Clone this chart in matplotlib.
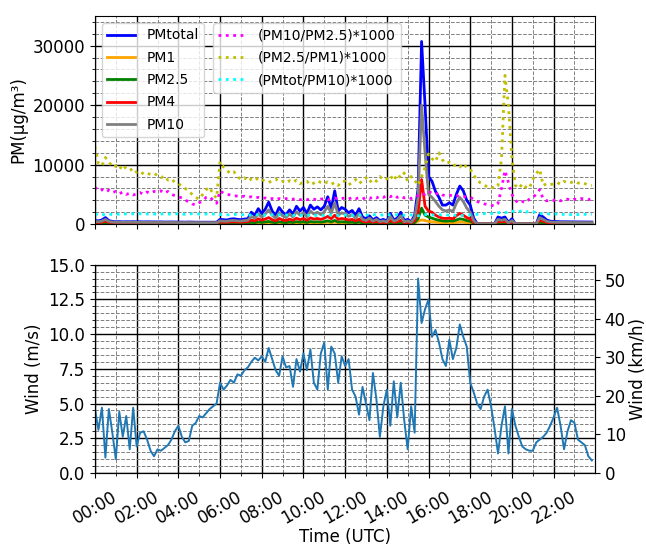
import numpy as np
import pandas as pd
import matplotlib
matplotlib.use('Agg')
from matplotlib import pyplot as plt
import matplotlib.dates as mdates
from matplotlib.ticker import MultipleLocator

# 10-min Werte, 00:00 bis 23:50 (je Zeile eine Stunde)
pm_total = [
    600, 550, 700, 1100, 600, 450,
    400, 420, 380, 400, 390, 410,
    380, 400, 370, 390, 380, 360,
    370, 380, 350, 360, 370, 350,
    340, 350, 330, 360, 340, 330,
    330, 340, 320, 330, 340, 320,
    800, 750, 700, 850, 900, 800,
    750, 850, 900, 2000, 1500, 2600,
    1800, 2500, 3700, 2200, 1500, 2800,
    2000, 1600, 2400, 1700, 3000, 2200,
    2800, 1800, 3200, 2500, 2900, 2400,
    3000, 4600, 2600, 5600, 2200, 2800,
    2500, 1900, 2300, 1500, 2600, 1200,
    900, 1400, 700, 1100, 600, 800,
    500, 1800, 700, 1000, 2000, 600,
    800, 400, 1500, 6000, 30700, 20000,
    8000, 7200, 5500, 4500, 3200, 3200,
    3600, 3200, 5000, 6400, 5600, 4000,
    3200, 1000, 80, 60, 50, 60,
    50, 60, 1200, 1000, 1200, 300,
    900, 60, 50, 50, 50, 60,
    60, 50, 1600, 1200, 700, 500,
    450, 420, 400, 400, 390, 380,
    380, 370, 370, 360, 350, 350,
]
pm10 = [
    450, 400, 500, 800, 450, 350,
    300, 320, 290, 300, 300, 310,
    290, 300, 280, 290, 290, 270,
    280, 290, 260, 270, 280, 260,
    250, 260, 250, 270, 250, 250,
    250, 260, 240, 250, 260, 240,
    550, 500, 480, 600, 620, 550,
    520, 600, 650, 1300, 1000, 1700,
    1200, 1700, 2400, 1500, 1000, 1900,
    1400, 1100, 1700, 1200, 2100, 1500,
    1900, 1200, 2200, 1700, 2000, 1600,
    2100, 3000, 1800, 3600, 1500, 1900,
    1700, 1300, 1600, 1000, 1800, 800,
    600, 1000, 500, 800, 400, 550,
    350, 1300, 500, 700, 1400, 400,
    550, 300, 1100, 4500, 20000, 12000,
    5000, 4500, 3800, 3000, 2400, 2200,
    2400, 2100, 3500, 4500, 3800, 2700,
    2000, 600, 50, 40, 35, 40,
    35, 40, 800, 650, 800, 200,
    600, 40, 35, 35, 35, 40,
    40, 35, 1100, 800, 480, 350,
    320, 300, 280, 280, 270, 260,
    260, 260, 250, 250, 240, 240,
]
pm4 = [
    300, 280, 330, 500, 300, 250,
    200, 210, 190, 200, 200, 205,
    190, 200, 185, 190, 190, 180,
    185, 190, 175, 180, 185, 175,
    170, 175, 165, 180, 170, 165,
    165, 170, 160, 165, 170, 160,
    350, 320, 300, 380, 400, 350,
    330, 380, 420, 700, 550, 900,
    650, 850, 1100, 750, 550, 950,
    700, 600, 850, 650, 1000, 750,
    950, 650, 1050, 850, 950, 800,
    1000, 1300, 900, 1500, 800, 950,
    850, 700, 800, 550, 850, 450,
    350, 500, 300, 450, 250, 320,
    220, 600, 300, 400, 650, 250,
    320, 200, 600, 2000, 7500, 3000,
    2200, 2000, 1500, 1200, 1000, 950,
    1000, 900, 1400, 1800, 1500, 1100,
    900, 300, 30, 25, 20, 25,
    20, 25, 450, 380, 450, 120,
    350, 25, 20, 20, 20, 25,
    25, 20, 650, 480, 300, 220,
    200, 190, 180, 180, 175, 170,
    170, 165, 165, 160, 160, 155,
]
pm25 = [
    130, 120, 140, 200, 130, 110,
    95, 100, 90, 95, 95, 98,
    90, 95, 88, 90, 90, 85,
    88, 90, 82, 85, 88, 82,
    80, 82, 78, 85, 80, 78,
    78, 80, 75, 78, 80, 75,
    160, 150, 140, 175, 180, 160,
    150, 170, 190, 300, 240, 380,
    280, 360, 450, 320, 240, 400,
    300, 260, 360, 280, 420, 320,
    400, 280, 440, 360, 400, 340,
    420, 550, 380, 620, 340, 400,
    360, 300, 340, 240, 360, 200,
    160, 220, 140, 200, 120, 150,
    100, 260, 140, 180, 280, 120,
    150, 95, 260, 900, 2700, 1500,
    1200, 1000, 800, 650, 550, 500,
    550, 500, 700, 900, 800, 600,
    480, 150, 15, 12, 10, 12,
    10, 12, 200, 170, 200, 60,
    160, 12, 10, 10, 10, 12,
    12, 10, 300, 220, 140, 100,
    90, 85, 82, 80, 78, 76,
    76, 75, 74, 72, 72, 70,
]
pm1 = [
    80, 75, 85, 120, 80, 70,
    60, 62, 58, 60, 60, 61,
    58, 60, 56, 58, 58, 55,
    56, 58, 52, 54, 56, 52,
    50, 52, 50, 54, 50, 50,
    50, 52, 48, 50, 52, 48,
    100, 95, 90, 110, 115, 100,
    95, 110, 120, 190, 150, 240,
    180, 230, 280, 200, 150, 250,
    190, 165, 230, 180, 260, 200,
    250, 180, 280, 230, 250, 215,
    260, 340, 240, 380, 215, 250,
    230, 190, 215, 150, 230, 130,
    100, 140, 90, 130, 75, 95,
    65, 165, 90, 115, 175, 75,
    95, 60, 165, 500, 700, 600,
    450, 400, 330, 280, 240, 220,
    240, 220, 300, 380, 340, 260,
    210, 70, 8, 6, 5, 6,
    5, 6, 100, 85, 100, 30,
    80, 6, 5, 5, 5, 6,
    6, 5, 150, 110, 70, 50,
    45, 42, 41, 40, 39, 38,
    38, 37, 37, 36, 36, 35,
]
ratio_10_25 = [
    6200, 5600, 5800, 5400, 5700, 5300,
    5500, 5100, 5400, 5000, 5200, 4900,
    5100, 5300, 5000, 5400, 5200, 5500,
    5400, 5600, 5200, 5500, 5000, 4800,
    4600, 4400, 4000, 3800, 3400, 3200,
    3600, 3900, 4500, 4600, 4000, 3500,
    5600, 5200, 5000, 4900, 4800, 4700,
    4600, 4700, 4500, 4600, 4400, 4500,
    4300, 4400, 4200, 4300, 4100, 4300,
    4200, 4300, 4100, 4200, 4300, 4100,
    4200, 4100, 4300, 4200, 4000, 4200,
    4300, 4100, 4200, 4400, 4200, 4300,
    4400, 4200, 4500, 4300, 4400, 4200,
    4500, 4300, 4600, 4400, 4700, 4500,
    4800, 4600, 4900, 4500, 4700, 4400,
    4500, 4300, 4600, 4800, 5200, 5000,
    5500, 5200, 5000, 5300, 4900, 4800,
    4900, 4700, 4800, 4600, 4700, 4500,
    4500, 4200, 3800, 3600, 3400, 3300,
    3200, 3000, 3500, 6000, 9000, 7000,
    5000, 4000, 3500, 3800, 3600, 4200,
    4500, 5000, 5800, 4200, 3900, 4100,
    4000, 4200, 3900, 4100, 4200, 4000,
    4200, 4100, 4300, 4200, 4100, 4300,
]
ratio_25_1 = [
    13000, 10200, 9800, 11200, 10500, 9600,
    9800, 9200, 10000, 9300, 9000, 9400,
    8700, 8900, 8400, 8600, 8300, 8500,
    8200, 7800, 8100, 7400, 7600, 7000,
    6800, 6400, 6000, 5500, 5000, 4500,
    4200, 5000, 5800, 6200, 5000, 4400,
    10500, 9600, 9000, 8500, 8800, 8000,
    7500, 7800, 7200, 7600, 7300, 7800,
    7500, 7200, 7000, 7300, 7600, 7100,
    7200, 6900, 7300, 7000, 7400, 6800,
    7000, 7200, 6600, 6900, 7300, 7000,
    6800, 7100, 6700, 7000, 6500, 7200,
    7200, 6600, 7000, 7500, 6800, 7300,
    7800, 7000, 7600, 7200, 8000, 7400,
    7600, 8200, 7300, 8400, 7800, 8600,
    7200, 8000, 7400, 6500, 8000, 9500,
    11800, 11000, 10500, 12000, 10800, 10200,
    10400, 9800, 10000, 9600, 10200, 9500,
    9300, 8200, 7400, 6900, 6600, 6200,
    6300, 6000, 6500, 11000, 25000, 20000,
    11000, 6500, 6000, 6800, 6200, 6000,
    7500, 8500, 9200, 6500, 6800, 6600,
    6800, 7000, 6700, 7200, 6900, 7000,
    7200, 6900, 7000, 6800, 6600, 6500,
]
ratio_tot_10 = [
    1600, 1700, 1550, 1650, 1700, 1600,
    1700, 1650, 1750, 1700, 1650, 1750,
    1700, 1750, 1650, 1700, 1750, 1700,
    1650, 1700, 1750, 1700, 1650, 1700,
    1750, 1700, 1650, 1700, 1750, 1700,
    1700, 1650, 1700, 1750, 1700, 1650,
    1600, 1650, 1550, 1600, 1650, 1600,
    1550, 1600, 1500, 1550, 1600, 1550,
    1550, 1500, 1600, 1550, 1500, 1550,
    1500, 1550, 1500, 1450, 1550, 1500,
    1500, 1450, 1550, 1500, 1450, 1500,
    1450, 1500, 1550, 1500, 1450, 1500,
    1500, 1550, 1450, 1500, 1550, 1500,
    1550, 1500, 1600, 1550, 1500, 1550,
    1600, 1550, 1500, 1600, 1550, 1500,
    1500, 1550, 1450, 1400, 1500, 1600,
    1600, 1550, 1500, 1550, 1600, 1550,
    1500, 1550, 1450, 1500, 1450, 1500,
    1550, 1600, 1650, 1700, 1750, 1700,
    1800, 1750, 1900, 2000, 1900, 2100,
    2200, 2000, 2100, 2300, 2000, 2200,
    2100, 1900, 1800, 1700, 1750, 1700,
    1650, 1700, 1600, 1650, 1700, 1600,
    1650, 1600, 1700, 1650, 1600, 1650,
]
wind_ms = [
    4.6, 3.1, 4.7, 1.1, 4.6, 2.9,
    1.0, 4.4, 2.6, 4.1, 1.7, 4.7,
    1.9, 2.9, 3.0, 2.4, 1.6, 1.2,
    1.7, 1.6, 1.8, 2.0, 2.4, 3.0,
    3.4, 2.6, 2.2, 2.3, 3.4, 3.6,
    4.1, 4.0, 4.3, 4.6, 4.8, 5.0,
    6.5, 6.0, 6.3, 6.7, 6.5, 7.1,
    7.0, 7.4, 7.6, 8.0, 8.3, 8.1,
    8.4, 8.0, 9.0, 8.2, 7.4, 7.0,
    8.4, 7.6, 7.7, 6.2, 8.2, 7.3,
    8.6, 7.4, 8.9, 6.5, 6.0, 8.6,
    9.4, 6.0, 9.1, 8.6, 6.5, 8.4,
    7.7, 8.2, 6.0, 5.5, 4.2, 6.2,
    5.0, 3.8, 7.2, 5.3, 2.6, 4.8,
    6.0, 3.4, 6.6, 4.0, 6.5, 3.8,
    1.7, 4.8, 2.9, 14.0, 10.8, 11.8,
    12.5, 9.8, 10.3, 9.4, 8.2, 7.7,
    9.6, 8.2, 9.0, 10.7, 9.8, 9.1,
    6.5, 5.8, 5.0, 4.6, 5.5, 6.0,
    4.8, 3.2, 1.4, 3.4, 4.8, 1.4,
    4.6, 3.4, 2.6, 1.9, 1.7, 1.6,
    1.6, 2.2, 2.4, 2.6, 2.9, 3.4,
    4.0, 4.7, 3.4, 1.7, 3.0, 3.8,
    3.6, 2.4, 2.2, 2.0, 1.2, 0.9,
]

zeit = pd.date_range('2021-01-01 00:00', periods=len(wind_ms), freq='10min')
start = zeit[0]
ende = start + pd.Timedelta(hours=23, minutes=59)


def gitter(ax):
    ax.grid(which='major', color='black', linestyle='-', linewidth=1.0)
    ax.grid(which='minor', color='grey', linestyle='--', linewidth=0.7)


fig = plt.figure(figsize=(6.46, 5.48), dpi=100)
ax1 = fig.add_axes([0.147, 0.591, 0.774, 0.380])
ax2 = fig.add_axes([0.147, 0.137, 0.774, 0.380], sharex=ax1)

# PM Konzentrationen
l1, = ax1.plot(zeit, pm_total, color='blue', lw=2, label='PMtotal')
l2, = ax1.plot(zeit, pm1, color='orange', lw=2, label='PM1')
l3, = ax1.plot(zeit, pm25, color='green', lw=2, label='PM2.5')
l4, = ax1.plot(zeit, pm4, color='red', lw=2, label='PM4')
l5, = ax1.plot(zeit, pm10, color='grey', lw=2, label='PM10')
r1, = ax1.plot(zeit, ratio_10_25, color='magenta', ls=':', lw=2, label='(PM10/PM2.5)*1000')
r2, = ax1.plot(zeit, ratio_25_1, color='y', ls=':', lw=2, label='(PM2.5/PM1)*1000')
r3, = ax1.plot(zeit, ratio_tot_10, color='cyan', ls=':', lw=2, label='(PMtot/PM10)*1000')

ax1.set_ylim(0, 35000)
ax1.yaxis.set_major_locator(MultipleLocator(10000))
ax1.yaxis.set_minor_locator(MultipleLocator(2000))
ax1.set_ylabel('PM(µg/m³)', fontsize=12)
ax1.tick_params(axis='y', labelsize=12)
ax1.tick_params(axis='x', labelbottom=False)
gitter(ax1)

leg1 = ax1.legend(handles=[l1, l2, l3, l4, l5], loc='upper left', fontsize=10, labelspacing=0.6)
ax1.add_artist(leg1)
ax1.legend(handles=[r1, r2, r3], loc='upper left', bbox_to_anchor=(0.222, 1.0), fontsize=10, labelspacing=0.6)

# Wind
ax2.plot(zeit, wind_ms, color='tab:blue', lw=1.4)
ax2.set_ylim(0, 15)
ax2.yaxis.set_major_locator(MultipleLocator(2.5))
ax2.yaxis.set_minor_locator(MultipleLocator(0.5))
ax2.set_ylabel('Wind (m/s)', fontsize=12)
ax2.set_xlabel('Time (UTC)', fontsize=12, labelpad=1)
ax2.tick_params(axis='both', labelsize=12)
ax2.tick_params(axis='x', pad=7)
gitter(ax2)

ax2.set_xlim(start, ende)
ax2.xaxis.set_major_locator(mdates.HourLocator(byhour=range(0, 24, 2)))
ax2.xaxis.set_minor_locator(mdates.HourLocator(byhour=range(1, 24, 2)))
ax2.xaxis.set_major_formatter(mdates.DateFormatter('%H:%M'))
plt.setp(ax2.get_xticklabels(), rotation=30)

ax3 = ax2.twinx()
ax3.set_ylim(0, 15 * 3.6)
ax3.yaxis.set_major_locator(MultipleLocator(10))
ax3.set_ylabel('Wind (km/h)', fontsize=12, labelpad=2)
ax3.tick_params(axis='y', labelsize=12)

fig.savefig('out.png', dpi=100)
